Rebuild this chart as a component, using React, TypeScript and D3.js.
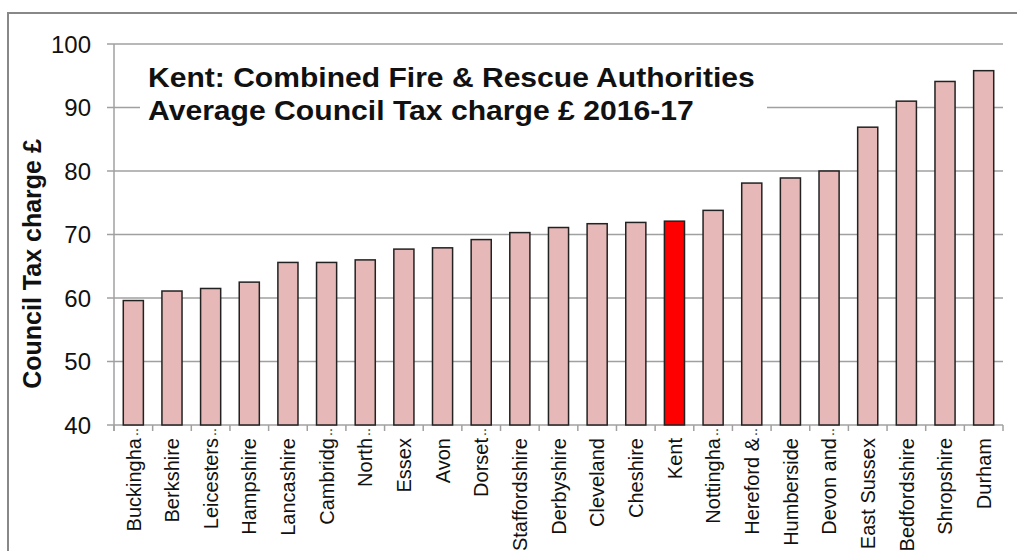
import { useEffect, useRef } from 'react'
import * as d3 from 'd3'

const categories = [
  'Buckingha', 'Berkshire', 'Leicesters', 'Hampshire', 'Lancashire', 'Cambridg',
  'North', 'Essex', 'Avon', 'Dorset', 'Staffordshire', 'Derbyshire', 'Cleveland',
  'Cheshire', 'Kent', 'Nottingha', 'Hereford &', 'Humberside', 'Devon and',
  'East Sussex', 'Bedfordshire', 'Shropshire', 'Durham',
]
const truncated = ['Buckingha', 'Leicesters', 'Cambridg', 'North', 'Dorset', 'Nottingha', 'Hereford &', 'Devon and']
const values = [
  59.6, 61.1, 61.5, 62.5, 65.6, 65.6, 66.0, 67.7, 67.9, 69.2, 70.3, 71.1, 71.7,
  71.9, 72.1, 73.8, 78.1, 78.9, 80.0, 86.9, 91.0, 94.1, 95.8,
]
const yTicks = [40, 50, 60, 70, 80, 90, 100]
const highlight = 'Kent'
const titleLines = ['Kent: Combined Fire & Rescue Authorities', 'Average Council Tax charge £ 2016-17']
const titleWidths = [607, 546]

export default function App() {
  const svgRef = useRef<SVGSVGElement>(null)

  useEffect(() => {
    if (!svgRef.current) return
    const svg = d3.select(svgRef.current)
    svg.selectAll('*').remove()

    const width = 1017
    const height = 551
    const margin = { top: 44, right: 14, bottom: 126, left: 114 }
    const chartWidth = width - margin.left - margin.right
    const chartHeight = height - margin.top - margin.bottom
    const font = 'Arial, "Liberation Sans", sans-serif'
    const gridColor = '#a0a0a0'

    svg.attr('width', width).attr('height', height)

    // outer frame
    svg.append('rect')
      .attr('x', 8).attr('y', 13)
      .attr('width', 1100).attr('height', 600)
      .attr('fill', 'white')
      .attr('stroke', '#888').attr('stroke-width', 2)

    const g = svg.append('g')
      .attr('transform', `translate(${margin.left},${margin.top})`)

    const x = d3.scaleBand()
      .domain(categories)
      .range([0, chartWidth])
      .paddingInner(0.48)
      .paddingOuter(0.24)

    const y = d3.scaleLinear()
      .domain([40, 100])
      .range([chartHeight, 0])

    // gridlines + y ticks
    g.selectAll('.grid')
      .data(yTicks)
      .enter()
      .append('line')
      .attr('x1', -7).attr('x2', chartWidth)
      .attr('y1', d => y(d)).attr('y2', d => y(d))
      .attr('stroke', gridColor).attr('stroke-width', 1.5)

    g.selectAll('.ytick')
      .data(yTicks)
      .enter()
      .append('text')
      .attr('x', -23)
      .attr('y', d => y(d))
      .attr('dy', '0.36em')
      .attr('text-anchor', 'end')
      .style('font-family', font)
      .style('font-size', '24px')
      .style('fill', '#111')
      .text(d => d)

    // y axis line
    g.append('line')
      .attr('x1', 0).attr('x2', 0)
      .attr('y1', 0).attr('y2', chartHeight + 6)
      .attr('stroke', gridColor).attr('stroke-width', 1.5)

    // x ticks at band boundaries
    const step = x.step()
    g.selectAll('.xtick')
      .data(d3.range(categories.length + 1))
      .enter()
      .append('line')
      .attr('x1', i => i * step).attr('x2', i => i * step)
      .attr('y1', chartHeight).attr('y2', chartHeight + 6)
      .attr('stroke', gridColor).attr('stroke-width', 1.5)

    // title box
    g.append('rect')
      .attr('x', 26).attr('y', 8)
      .attr('width', 627).attr('height', 86)
      .attr('fill', 'white')

    titleLines.forEach((t, i) => {
      const txt = g.append('text')
        .attr('transform', `translate(34,${43 + i * 33})`)
        .style('font-family', font)
        .style('font-size', '27px')
        .style('font-weight', 'bold')
        .style('fill', '#111')
        .text(t)
      const len = (txt.node() as SVGTextElement).getComputedTextLength()
      if (len > 0) txt.attr('transform', `translate(34,${43 + i * 33}) scale(${titleWidths[i] / len},1)`)
    })

    // bars
    g.selectAll('.bar')
      .data(categories)
      .enter()
      .append('rect')
      .attr('x', d => x(d) || 0)
      .attr('y', (d, i) => y(values[i]))
      .attr('width', x.bandwidth())
      .attr('height', (d, i) => chartHeight - y(values[i]))
      .attr('fill', d => d === highlight ? '#ff0000' : '#e6b8b7')
      .attr('stroke', '#222')
      .attr('stroke-width', 1.5)

    // x labels
    const labels = g.selectAll('.xlabel')
      .data(categories)
      .enter()
      .append('g')
      .attr('transform', d => `translate(${(x(d) || 0) + x.bandwidth() / 2},${chartHeight + 13}) rotate(-90)`)

    labels.append('text')
      .attr('text-anchor', 'end')
      .attr('dy', '0.36em')
      .style('font-family', font)
      .style('font-size', '20px')
      .style('fill', '#111')
      .text(d => d)

    labels.filter(d => truncated.includes(d))
      .append('text')
      .attr('x', 2)
      .attr('text-anchor', 'start')
      .attr('dy', '0.36em')
      .style('font-family', font)
      .style('font-size', '14px')
      .style('fill', '#111')
      .text('..')

    // y axis title
    svg.append('text')
      .attr('transform', 'translate(41,264) rotate(-90)')
      .attr('text-anchor', 'middle')
      .style('font-family', font)
      .style('font-size', '25px')
      .style('font-weight', 'bold')
      .style('fill', '#111')
      .text('Council Tax charge £')
  }, [])

  return (
    <svg ref={svgRef} style={{ position: 'absolute', left: 0, top: 0, background: 'white' }} />
  )
}
